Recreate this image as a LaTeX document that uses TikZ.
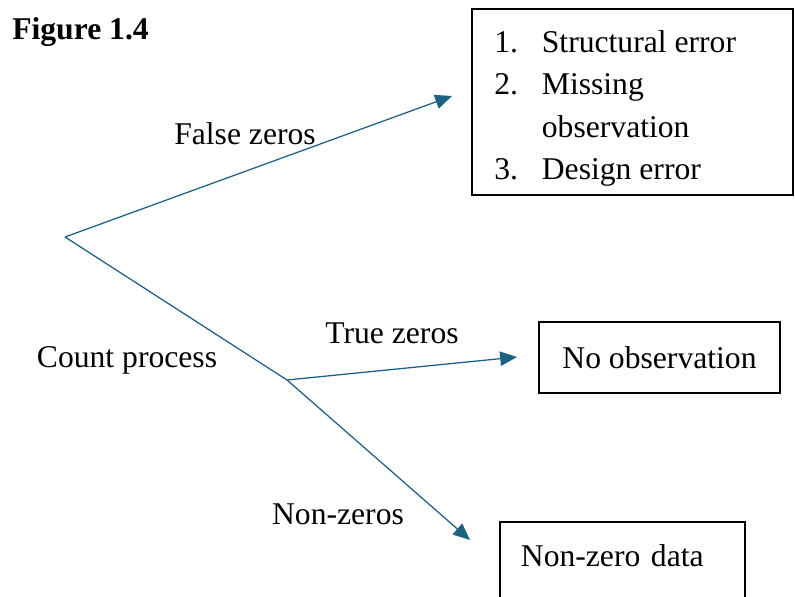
\documentclass[tikz,border=0pt]{standalone}
\usepackage{fontspec}
\setmainfont{Liberation Serif}
\usetikzlibrary{arrows.meta}
\definecolor{arrowblue}{RGB}{30,98,130}

\begin{document}
\begin{tikzpicture}[x=0.025cm,y=-0.025cm,font=\fontsize{22.5}{30}\selectfont]
\tikzstyle{branch}=[draw=arrowblue,line width=0.9pt]
\tikzstyle{arr}=[branch,-{Triangle[length=0.42cm,width=0.36cm]}]
\tikzstyle{outcome}=[rectangle,draw=black,line width=1.3pt]
\tikzstyle{lbl}=[inner sep=0pt]
\useasboundingbox (0,0) rectangle (795,597);
\node [lbl,anchor=west,font=\fontsize{22.5}{30}\selectfont\bfseries] (fig) at (12,32) {Figure 1.4};
% branch points
\coordinate (root) at (65,237);
\coordinate (fork) at (287,380);
\coordinate (fztip) at (452,96);
\coordinate (tztip) at (517,357);
\coordinate (nztip) at (470,540);
% outcome boxes
\node [outcome,minimum width=8.025cm,minimum height=4.65cm] (errbox) at (632.5,102) {};
\node [lbl,anchor=west] (errlist) at (494,107.5) {\begin{tabular}{@{}l@{\hspace{17pt}}l@{}}
1. & Structural error\\
2. & Missing\\
   & observation\\
3. & Design error
\end{tabular}};
\node [outcome,minimum width=6.025cm,minimum height=1.775cm] (noobs) at (659.5,357.5) {No observation};
\node [outcome,anchor=north west,inner ysep=0pt,inner xsep=0.525cm,text width=5.075cm,align=left,text height=32pt,text depth=60pt] (nzdata) at (499,521) {Non-zero data};
% labels
\node [lbl] (fzlab) at (245,134) {False zeros};
\node [lbl] (tzlab) at (392,333) {True zeros};
\node [lbl] (cplab) at (127,360) {Count process};
\node [lbl] (nzlab) at (338,514) {Non-zeros};
% connectors
\draw [arr] (root) -- (fztip);
\draw [branch] (root) -- (fork);
\draw [arr] (fork) -- (tztip);
\draw [arr] (fork) -- (nztip);
\end{tikzpicture}
\end{document}
